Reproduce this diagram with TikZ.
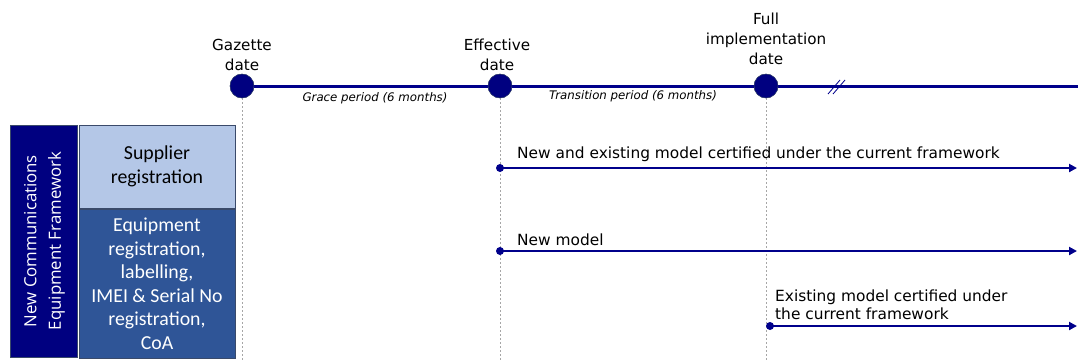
\documentclass[tikz,border=0pt]{standalone}
\usepackage{fontspec}
\setmainfont{DejaVu Sans}
\newfontfamily\boxfont{Carlito}
\newfontfamily\sidefont{Open Sans}
\usetikzlibrary{arrows.meta}
\definecolor{navy}{HTML}{000080}
\definecolor{lineblue}{HTML}{00008B}
\definecolor{lightbox}{HTML}{B4C7E7}
\definecolor{midbox}{HTML}{2F5597}
\definecolor{boxedge}{HTML}{3A4A6A}
\tikzset{
  milestone/.style={circle,fill=navy,draw=boxedge,line width=0.4pt,minimum size=24pt,inner sep=0pt},
  mlabel/.style={align=center,font=\fontsize{15.2}{20}\selectfont,anchor=south,inner sep=0pt},
  period/.style={font=\fontsize{11.8}{14}\selectfont\itshape,inner sep=0pt},
  guide/.style={draw=gray!70,dashed,dash pattern=on 2pt off 2pt,line width=0.5pt},
  track/.style={draw=lineblue,line width=2.8pt,-{Triangle[length=8pt,width=8pt]}},
  startdot/.style={circle,fill=lineblue,minimum size=8pt,inner sep=0pt},
  rowtext/.style={font=\fontsize{15.4}{18.5}\selectfont,anchor=south west,inner sep=0pt,align=left},
  catbox/.style={draw=boxedge,line width=0.6pt,align=center,font=\boxfont\fontsize{19.8}{23.5}\selectfont}
}
\begin{document}
\begin{tikzpicture}[x=1pt,y=-1pt]
\useasboundingbox (0,0) rectangle (1078,360);
% guides
\coordinate (g1) at (242,360);
\coordinate (g2) at (500,360);
\coordinate (g3) at (766,360);
% timeline
\coordinate (tlend) at (1078,86);
\node[milestone] (gaz) at (242,86) {};
\node[milestone] (eff) at (500,86) {};
\node[milestone] (full) at (766,86) {};
\draw[guide] (gaz.south) -- (g1);
\draw[guide] (eff.south) -- (g2);
\draw[guide] (full.south) -- (g3);
\draw[draw=lineblue,line width=3pt] (gaz) -- (eff) -- (full) -- (tlend);
\node[milestone] at (gaz) {};
\node[milestone] at (eff) {};
\node[milestone] at (full) {};
% break mark
\coordinate (br1a) at (828,94); \coordinate (br1b) at (840,80);
\coordinate (br2a) at (833,94); \coordinate (br2b) at (845,80);
\draw[lineblue,line width=0.8pt] (br1a) -- (br1b) (br2a) -- (br2b);
% labels
\node[mlabel] (gazl) at (242,71) {Gazette\\date};
\node[mlabel] (effl) at (497,71) {Effective\\date};
\node[mlabel] (fulll) at (766,65) {Full\\implementation\\date};
\node[period] (grace) at (375,98) {Grace period (6 months)};
\node[period] (trans) at (633,96) {Transition period (6 months)};
% left boxes
\node[draw=boxedge,line width=0.6pt,fill=navy,minimum width=67pt,minimum height=232pt,inner sep=0pt] (frame) at (43.5,241) {};
\node[rotate=90,text=white,align=center,font=\sidefont\fontsize{16.8}{24.5}\selectfont] (framet) at (44.5,241) {New Communications\\Equipment Framework};
\node[catbox,fill=lightbox,minimum width=156pt,minimum height=83pt,inner sep=0pt] (sup) at (157,166.5) {Supplier\\registration};
\node[catbox,fill=midbox,text=white,minimum width=156pt,minimum height=149pt,inner sep=0pt] (equip) at (157,283.5) {Equipment\\registration,\\labelling,\\IMEI \& Serial No\\registration,\\CoA};
% rows
\node[startdot] (s1) at (500,168) {};
\coordinate (e1) at (1077,168);
\draw[track] (s1.center) -- (e1);
\node[rowtext] (t1) at (517,162) {New and existing model certified under the current framework};
\node[startdot] (s2) at (500,251) {};
\coordinate (e2) at (1077,251);
\draw[track] (s2.center) -- (e2);
\node[rowtext] (t2) at (517,246) {New model};
\node[startdot] (s3) at (770,326) {};
\coordinate (e3) at (1077,326);
\draw[track] (s3.center) -- (e3);
\node[rowtext] (t3) at (775,320) {Existing model certified under\\the current framework};
\end{tikzpicture}
\end{document}
